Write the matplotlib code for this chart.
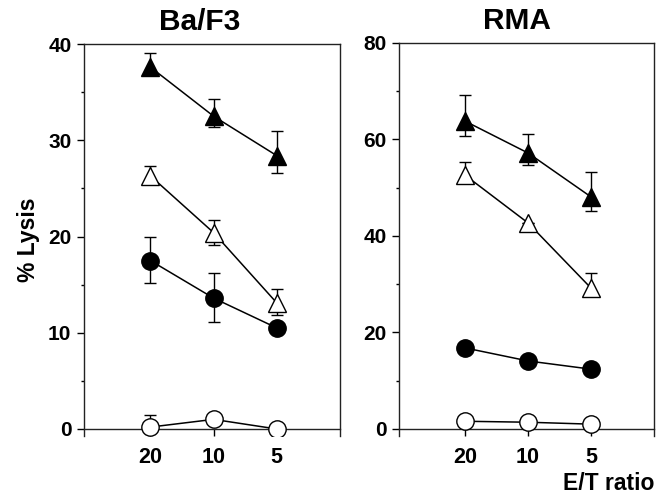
import matplotlib
matplotlib.use("Agg")
import matplotlib.pyplot as plt
from matplotlib.ticker import MultipleLocator

plt.rcParams['font.family'] = ['Liberation Sans', 'DejaVu Sans']
plt.rcParams['font.weight'] = 'bold'

ratios = ["20", "10", "5"]

# Ba/F3 panel: values, lower error, upper error
ba_filled_tri = [37.6, 32.5, 28.4]
ba_filled_tri_lo = [0.5, 1.1, 1.8]
ba_filled_tri_hi = [1.5, 1.8, 2.6]
ba_open_tri = [26.3, 20.4, 13.1]
ba_open_tri_lo = [0.5, 1.25, 1.25]
ba_open_tri_hi = [1.0, 1.35, 1.45]
ba_filled_circ = [17.5, 13.6, 10.5]
ba_filled_circ_lo = [2.3, 2.5, 0.0]
ba_filled_circ_hi = [2.5, 2.6, 0.0]
ba_open_circ = [0.2, 1.0, 0.0]
ba_open_circ_lo = [0.0, 0.0, 0.0]
ba_open_circ_hi = [1.3, 0.0, 0.0]

# RMA panel
rma_filled_tri = [63.8, 57.2, 48.1]
rma_filled_tri_lo = [3.1, 2.5, 2.9]
rma_filled_tri_hi = [5.4, 3.9, 5.2]
rma_open_tri = [52.6, 42.7, 29.2]
rma_open_tri_lo = [0.5, 0.0, 1.5]
rma_open_tri_hi = [2.7, 0.0, 3.1]
rma_filled_circ = [16.8, 14.1, 12.4]
rma_filled_circ_lo = [0.0, 0.0, 0.0]
rma_filled_circ_hi = [0.0, 0.0, 0.0]
rma_open_circ = [1.6, 1.4, 1.0]
rma_open_circ_lo = [0.0, 0.0, 0.0]
rma_open_circ_hi = [0.0, 0.0, 0.0]

W, H = 660, 496
fig = plt.figure(figsize=(W / 100, H / 100), dpi=100)

def px_axes(x0, y0, x1, y1):
    return fig.add_axes([x0 / W, 1 - y1 / H, (x1 - x0) / W, (y1 - y0) / H])

ax1 = px_axes(84, 44, 340, 436)
ax2 = px_axes(399, 43, 654, 436)

def draw(ax, series, ymax, ystep, title, tx):
    xs = list(range(len(ratios)))
    for vals, lo, hi, marker, face in series:
        ax.errorbar(xs, vals, yerr=[lo, hi], fmt='none', ecolor='black',
                    elinewidth=1.0, capsize=4, capthick=1.0, zorder=2)
        ax.plot(xs, vals, color='black', lw=1.1, marker=marker,
                markersize=12.5 if marker == 'o' else 13.5,
                markerfacecolor=face, markeredgecolor='black',
                markeredgewidth=1.0, zorder=3)
    ax.set_xlim(-1.05, 3.0)
    unit_px = 385 / ymax
    ax.set_ylim(-7 / unit_px, ymax)
    ax.spines['bottom'].set_position(('data', 0))
    for s in ax.spines.values():
        s.set_linewidth(1.0)
        s.set_color('#222222')
    ax.set_xticks(xs)
    ax.set_xticklabels(ratios, fontsize=15.5, fontweight='bold')
    ax.yaxis.set_major_locator(MultipleLocator(ystep))
    ax.yaxis.set_minor_locator(MultipleLocator(ystep / 2))
    ax.tick_params(axis='y', which='major', direction='out', length=5,
                   width=1.0, labelsize=15, pad=4)
    ax.tick_params(axis='y', which='minor', direction='out', length=2.5,
                   width=1.0)
    ax.tick_params(axis='x', direction='out', length=5, width=1.0, pad=8)
    for lab in ax.get_yticklabels():
        lab.set_fontweight('bold')
    ax.text(tx, 1.02, title, transform=ax.transAxes, ha='center',
            va='bottom', fontsize=21.5, fontweight='bold')

draw(ax1, [
    (ba_filled_tri, ba_filled_tri_lo, ba_filled_tri_hi, '^', 'black'),
    (ba_open_tri, ba_open_tri_lo, ba_open_tri_hi, '^', 'white'),
    (ba_filled_circ, ba_filled_circ_lo, ba_filled_circ_hi, 'o', 'black'),
    (ba_open_circ, ba_open_circ_lo, ba_open_circ_hi, 'o', 'white'),
], 40, 10, 'Ba/F3', 0.453)

draw(ax2, [
    (rma_filled_tri, rma_filled_tri_lo, rma_filled_tri_hi, '^', 'black'),
    (rma_open_tri, rma_open_tri_lo, rma_open_tri_hi, '^', 'white'),
    (rma_filled_circ, rma_filled_circ_lo, rma_filled_circ_hi, 'o', 'black'),
    (rma_open_circ, rma_open_circ_lo, rma_open_circ_hi, 'o', 'white'),
], 80, 20, 'RMA', 0.463)

ax1.set_ylabel('% Lysis', fontsize=16.5, fontweight='bold', labelpad=6)
fig.text(654 / W, 1 - 490 / H, 'E/T ratio', ha='right', va='baseline',
         fontsize=16.5, fontweight='bold')

fig.savefig('out.png', dpi=100)
